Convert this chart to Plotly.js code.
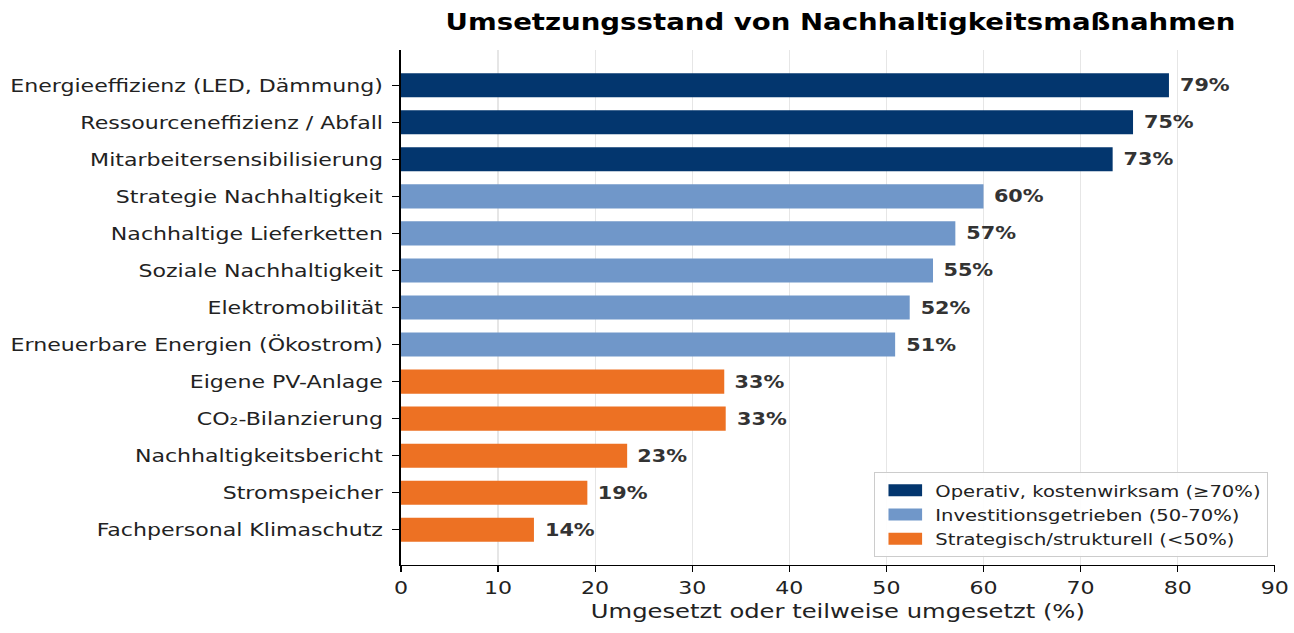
<!DOCTYPE html>
<html>
<head>
<meta charset="utf-8">
<script src="https://cdn.plot.ly/plotly-3.0.1.min.js"></script>
<style>
html,body{margin:0;padding:0;background:#fff;overflow:hidden;}
#wrap{width:1294px;height:633px;overflow:hidden;}
#chart{width:1078px;height:633px;transform:scaleX(1.20037);transform-origin:0 0;}
</style>
</head>
<body>
<div id="wrap"><div id="chart"></div></div>
<script>
const categories = [
  "Energieeffizienz (LED, Dämmung)",
  "Ressourceneffizienz / Abfall",
  "Mitarbeitersensibilisierung",
  "Strategie Nachhaltigkeit",
  "Nachhaltige Lieferketten",
  "Soziale Nachhaltigkeit",
  "Elektromobilität",
  "Erneuerbare Energien (Ökostrom)",
  "Eigene PV-Anlage",
  "CO₂-Bilanzierung",
  "Nachhaltigkeitsbericht",
  "Stromspeicher",
  "Fachpersonal Klimaschutz"
];
const values = [79.1, 75.4, 73.3, 60.0, 57.1, 54.8, 52.4, 50.9, 33.3, 33.45, 23.3, 19.2, 13.7];
const groups = [0,0,0,1,1,1,1,1,2,2,2,2,2];
const groupNames = ["Operativ, kostenwirksam (≥70%)", "Investitionsgetrieben (50-70%)", "Strategisch/strukturell (<50%)"];
const groupColors = ["#03366e", "#7097c9", "#ed7123"];
const xTicks = [0,10,20,30,40,50,60,70,80,90];

const font = "DejaVu Sans, Verdana, sans-serif";
const traces = groupNames.map((name, g) => {
  const ys = [], xs = [];
  categories.forEach((c, i) => { if (groups[i] === g) { ys.push(c); xs.push(values[i]); } });
  return {
    type: "bar", orientation: "h", name: name, x: xs, y: ys,
    width: 0.65,
    marker: {color: groupColors[g], line: {width: 0}},
    hoverinfo: "x+y"
  };
});

const annotations = categories.map((c, i) => ({
  x: values[i], y: c, xref: "x", yref: "y",
  text: Math.round(values[i]) + "%",
  showarrow: false, xanchor: "left", yanchor: "middle", xshift: 7,
  font: {family: font, size: 17.3, color: "#333333", weight: "bold"}
}));

const layout = {
  width: 1078, height: 633,
  margin: {l: 334, r: 16, t: 50, b: 68},
  paper_bgcolor: "#ffffff", plot_bgcolor: "#ffffff",
  title: {text: "<b>Umsetzungsstand von Nachhaltigkeitsmaßnahmen</b>", x: 0.6495, xanchor: "center", y: 0.965, yanchor: "middle",
          font: {family: font, size: 23, color: "#000000"}},
  barmode: "overlay",
  showlegend: true,
  legend: {x: 0.992, y: 0.015, xanchor: "right", yanchor: "bottom",
           bgcolor: "rgba(255,255,255,0.9)", bordercolor: "#cccccc", borderwidth: 1,
           font: {family: font, size: 16.3, color: "#222222"}, traceorder: "normal",
           itemwidth: 40, tracegroupgap: 0},
  xaxis: {
    range: [0, 90], tickvals: xTicks, ticktext: xTicks.map(String),
    showgrid: true, gridcolor: "#e6e6e6", gridwidth: 1,
    showline: true, linecolor: "#000000", linewidth: 1.3,
    ticks: "outside", ticklen: 6, tickcolor: "#000000",
    tickfont: {family: font, size: 18.4, color: "#222222"},
    title: {text: "Umgesetzt oder teilweise umgesetzt (%)", font: {family: font, size: 20.2, color: "#222222"}, standoff: 6},
    zeroline: false, fixedrange: true
  },
  yaxis: {
    type: "category", categoryorder: "array", categoryarray: categories,
    range: [12.95, -0.95],
    showgrid: false, showline: true, linecolor: "#000000", linewidth: 1.3,
    ticks: "outside", ticklen: 6, tickcolor: "#000000", ticklabelstandoff: 4,
    tickfont: {family: font, size: 18.4, color: "#222222"},
    zeroline: false, fixedrange: true
  },
  annotations: annotations
};

Plotly.newPlot("chart", traces, layout, {displayModeBar: false, staticPlot: true}).then(gd => {
  gd.querySelectorAll(".legend .legendpoints path").forEach(p => {
    p.setAttribute("d", "M14,6H-14V-6H14Z");
  });
});
</script>
</body>
</html>
